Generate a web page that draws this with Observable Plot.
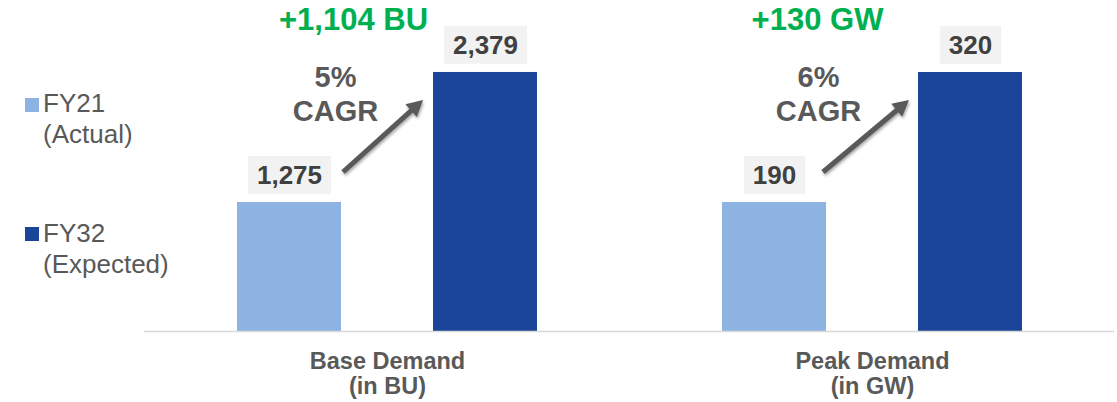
<!DOCTYPE html>
<html><head><meta charset="utf-8">
<script src="https://cdn.jsdelivr.net/npm/d3@7"></script>
<script src="https://cdn.jsdelivr.net/npm/@observablehq/plot@0.6"></script>
<style>
body{margin:0;background:#fff;font-family:"Liberation Sans",Arial,sans-serif;}
#wrap{position:relative;width:1117px;height:402px;overflow:hidden;background:#fff;}
#legend{position:absolute;left:0;top:0;width:144px;height:402px;}
.sw{position:absolute;left:25px;width:14px;height:14px;}
.lab{position:absolute;left:43px;font-size:26px;line-height:31px;color:#595959;white-space:nowrap;}
#panels{position:absolute;left:144px;top:0;display:flex;}
</style></head><body>
<div id="wrap"><div id="legend"></div><div id="panels"></div></div>
<script>
// ---- data ----
const groups = ["Base Demand\n(in BU)", "Peak Demand\n(in GW)"];
const years = ["FY21", "FY32"];
const yearLabels = ["(Actual)", "(Expected)"];
const baseValues = [1275, 2379];
const peakValues = [190, 320];
const increases = ["+1,104 BU", "+130 GW"];
const cagrs = ["5%", "6%"];
const colors = ["#8DB3E2", "#1A4598"];

const FONT = '"Liberation Sans", Arial, sans-serif';

// ---- legend ----
const legend = document.getElementById("legend");
const swTops = [98, 227], labTops = [87.5, 217.5];
years.forEach((y, i) => {
  const s = document.createElement("div");
  s.className = "sw"; s.style.top = swTops[i] + "px"; s.style.background = colors[i];
  legend.appendChild(s);
  const l = document.createElement("div");
  l.className = "lab"; l.style.top = labTops[i] + "px";
  l.innerHTML = y + "<br>" + yearLabels[i];
  legend.appendChild(l);
});

// ---- panels ----
const panels = [
  {label: groups[0], values: baseValues, inc: increases[0], cagr: cagrs[0], domain: [180, 2990], incDx: -34, cagrDx: -52, aStart: 2, aEnd: -10},
  {label: groups[1], values: peakValues, inc: increases[1], cagr: cagrs[1], domain: [61, 392], incDx: -55, cagrDx: -54, aStart: -3, aEnd: -9}
];
const fmt = d3.format(",");
const host = document.getElementById("panels");

panels.forEach(p => {
  const data = years.map((y, i) => ({year: y, value: p.values[i]}));
  const lo = p.domain[0];
  const plot = Plot.plot({
    width: 485, height: 402,
    marginTop: 0, marginBottom: 71, marginLeft: 92, marginRight: 91,
    style: {fontFamily: FONT, background: "transparent", overflow: "visible"},
    x: {domain: years, axis: null, paddingInner: 0.467, paddingOuter: 0},
    y: {domain: p.domain, axis: null},
    color: {domain: years, range: colors},
    marks: [
      Plot.barY(data, {x: "year", y1: () => lo, y2: "value", fill: "year"}),
      Plot.ruleY([lo], {stroke: "#d9d9d9", strokeWidth: 1.5, insetLeft: -92, insetRight: -91}),
      Plot.text(data, {x: "year", y: "value", text: d => fmt(d.value), dy: -27, lineAnchor: "middle",
        fontSize: 26, fontWeight: "bold", fill: "#404040", ariaDescription: "value-labels"}),
      Plot.text([p.inc], {text: d => d, frameAnchor: "top", dx: p.incDx, dy: 20, lineAnchor: "middle",
        fontSize: 31, fontWeight: "bold", fill: "#00B050"}),
      Plot.text([p.cagr + "\nCAGR"], {text: d => d, frameAnchor: "top", dx: p.cagrDx, dy: 93, lineAnchor: "middle",
        lineHeight: 34 / 29, fontSize: 29, fontWeight: "bold", fill: "#595959"}),
      Plot.text([p.label], {text: d => d, frameAnchor: "bottom", dy: 42, lineAnchor: "middle",
        lineHeight: 25.5 / 23.5, fontSize: 23.5, fontWeight: "bold", fill: "#595959"})
    ]
  });
  host.appendChild(plot);

  // label boxes behind value labels
  const svgNS = "http://www.w3.org/2000/svg";
  let g = plot.querySelector('g[aria-description="value-labels"]');
  let texts = g ? Array.from(g.querySelectorAll("text")) :
    Array.from(plot.querySelectorAll("text")).filter(t => data.some(d => fmt(d.value) === t.textContent));
  texts.forEach(t => {
    const bb = t.getBBox();
    const r = document.createElementNS(svgNS, "rect");
    r.setAttribute("x", bb.x - 9);
    r.setAttribute("y", bb.y + bb.height / 2 - 19);
    r.setAttribute("width", bb.width + 18);
    r.setAttribute("height", 38);
    r.setAttribute("fill", "#f2f2f2");
    r.setAttribute("stroke", "none");
    if (t.getAttribute("transform")) r.setAttribute("transform", t.getAttribute("transform"));
    t.parentNode.insertBefore(r, t);
  });

  // growth arrow, positioned from the bars via Plot's scales
  const sx = plot.scale("x"), sy = plot.scale("y");
  const x0 = sx.apply(years[0]) + sx.bandwidth + p.aStart, y0 = sy.apply(p.values[0]) - 30;
  const x1 = sx.apply(years[1]) + p.aEnd, y1 = sy.apply(p.values[1]) + 28;
  const len = Math.hypot(x1 - x0, y1 - y0), ux = (x1 - x0) / len, uy = (y1 - y0) / len;
  const head = 16, hw = 8.5;
  const bx = x1 - ux * head, by = y1 - uy * head;
  const svg = d3.select(plot.tagName.toLowerCase() === "svg" ? plot : plot.querySelector("svg"));
  const ag = svg.append("g").style("filter", "drop-shadow(1.5px 2px 1.5px rgba(0,0,0,0.35))");
  ag.append("line").attr("x1", x0).attr("y1", y0).attr("x2", bx + ux * 2).attr("y2", by + uy * 2)
    .attr("stroke", "#595959").attr("stroke-width", 5);
  ag.append("polygon")
    .attr("points", [[x1, y1], [bx - uy * hw, by + ux * hw], [bx + uy * hw, by - ux * hw]].map(q => q.join(",")).join(" "))
    .attr("fill", "#595959");
});
</script>
</body></html>
